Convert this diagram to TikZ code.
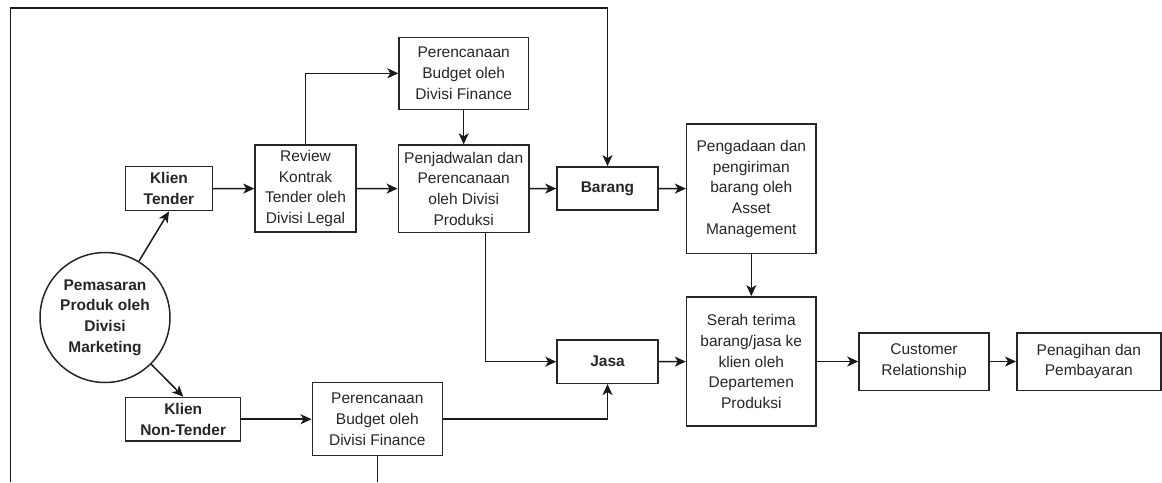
\documentclass[tikz,border=0pt]{standalone}
\usepackage{fontspec}
\setmainfont{Liberation Sans}
\usetikzlibrary{arrows.meta}
\begin{document}
\begin{tikzpicture}[x=1pt,y=-1pt,
  every node/.style={font=\fontsize{15.5}{20.7}\selectfont, text=black!85},
  box/.style={draw=black!85, line width=1.5pt, align=center, inner sep=0pt},
  bbox/.style={box, font=\fontsize{15.5}{20.7}\selectfont\bfseries},
  flow/.style={draw=black!90, line width=1.5pt, -{Stealth[length=11pt,width=10pt,inset=3pt]}},
  plain/.style={draw=black!90, line width=1.5pt}
]
\useasboundingbox (0,0) rectangle (1162,482);

\node[circle, draw=black!85, line width=1.5pt, minimum size=130pt, inner sep=0pt, align=center, font=\fontsize{15.5}{20.7}\selectfont\bfseries] (mkt) at (105,317.5) {Pemasaran\\Produk oleh\\Divisi\\Marketing};

\node[bbox, minimum width=86.6pt, minimum height=44pt] (kt) at (169,188.7) {Klien\\Tender};
\node[bbox, minimum width=115pt, minimum height=43.7pt] (knt) at (183.2,419.2) {Klien\\Non-Tender};
\node[box, minimum width=101pt, minimum height=86.7pt] (review) at (305.5,188.5) {Review\\Kontrak\\Tender oleh\\Divisi Legal};
\node[box, minimum width=129.3pt, minimum height=72pt] (budget1) at (463.7,73.3) {Perencanaan\\Budget oleh\\Divisi Finance};
\node[box, minimum width=130.7pt, minimum height=87.3pt] (jadwal) at (463.7,188.7) {Penjadwalan dan\\Perencanaan\\oleh Divisi\\Produksi};
\node[bbox, minimum width=101pt, minimum height=43.3pt] (barang) at (607.5,188.5) {Barang};
\node[box, minimum width=129.3pt, minimum height=129.3pt] (pengadaan) at (751.3,188.7) {Pengadaan dan\\pengiriman\\barang oleh\\Asset\\Management};
\node[bbox, minimum width=101pt, minimum height=43.3pt] (jasa) at (607.5,361.7) {Jasa};
\node[box, minimum width=129.5pt, minimum height=129.3pt] (serah) at (751.3,361.5) {Serah terima\\barang/jasa ke\\klien oleh\\Departemen\\Produksi};
\node[box, minimum width=130pt, minimum height=57.5pt] (cust) at (924,361.5) {Customer\\Relationship};
\node[box, minimum width=144pt, minimum height=57.5pt] (pen) at (1088.8,361.5) {Penagihan dan\\Pembayaran};
\node[box, minimum width=130pt, minimum height=73pt] (budget2) at (377.3,419.2) {Perencanaan\\Budget oleh\\Divisi Finance};

\coordinate (loopstart) at (10.7,482);
\coordinate (looptop) at (10.7,8);
\coordinate (b2end) at (377.3,482);

\draw[flow] (mkt) -- (kt.south);
\draw[flow] (mkt) -- (knt.north);
\draw[flow] (kt) -- (review);
\draw[flow] (review.north) |- (budget1.west);
\draw[flow] (review) -- (jadwal);
\draw[flow] (budget1) -- (jadwal);
\draw[flow] (jadwal) -- (barang);
\draw[flow] (barang) -- (pengadaan);
\draw[flow] (pengadaan) -- (serah);
\draw[flow] ([xshift=22pt]jadwal.south) |- (jasa.west);
\draw[flow] (jasa) -- (serah);
\draw[flow] (serah) -- (cust);
\draw[flow] (cust) -- (pen);
\draw[flow] (knt) -- (budget2);
\draw[flow] (budget2.east) -| (jasa.south);
\draw[plain] (budget2.south) -- (b2end);
\draw[flow] (loopstart) -- (looptop) -| (barang.north);
\end{tikzpicture}
\end{document}
